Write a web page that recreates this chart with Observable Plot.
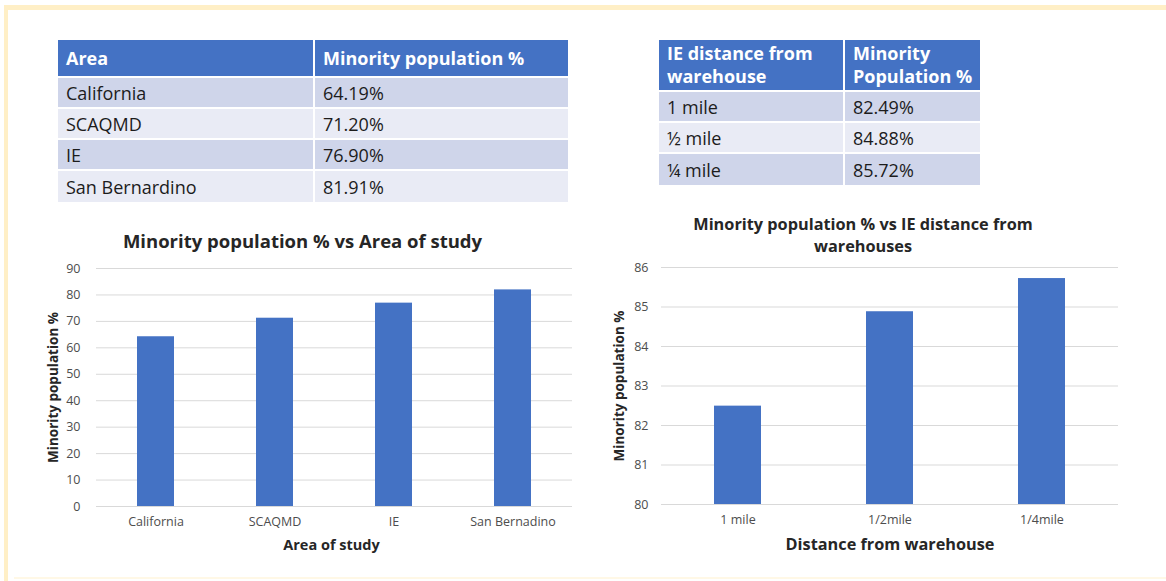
<!DOCTYPE html>
<html>
<head>
<meta charset="utf-8">
<script src="https://cdn.jsdelivr.net/npm/d3@7"></script>
<script src="https://cdn.jsdelivr.net/npm/@observablehq/plot@0.6"></script>
<style>
  html, body { margin: 0; padding: 0; }
  body { width: 1166px; height: 581px; position: relative; background: #fff; overflow: hidden; font-family: "Open Sans", Lato, sans-serif; }
  .band { position: absolute; background: #FFEFC6; }
  table.t { position: absolute; border-collapse: separate; border-spacing: 0; font-family: "Open Sans", sans-serif; color: #1c1c1c; table-layout: fixed; }
  table.t th, table.t td { text-align: left; padding: 0 0 0 8px; box-sizing: border-box; border-bottom: 2px solid #fff; vertical-align: middle; }
  table.t th { background: #4472C4; color: #fff; font-weight: 700; font-size: 18px; line-height: 23px; }
  table.t td { font-size: 18px; }
  table.t tr.odd td { background: #CFD5EA; }
  table.t tr.even td { background: #E9EBF5; }
  table.t tr:last-child td { border-bottom: none; }
  table.t th + th, table.t td + td { border-left: 2px solid #fff; }
  .chart { position: absolute; }
</style>
</head>
<body>
<div class="band" style="left:4px;top:5px;width:1162px;height:5px;"></div>
<div class="band" style="left:4px;top:5px;width:4px;height:576px;"></div>
<div class="band" style="left:14px;top:577px;width:1152px;height:2px;background:#FFF8E6;"></div>

<table class="t" id="t1" style="left:58px;top:40px;width:510px;"></table>
<table class="t" id="t2" style="left:659px;top:40px;width:321px;"></table>
<div class="chart" id="c1" style="left:0px;top:215px;"></div>
<div class="chart" id="c2" style="left:600px;top:195px;"></div>

<script>
// ---- Table data ----
const areaHeader = ["Area", "Minority population %"];
const areaNames = ["California", "SCAQMD", "IE", "San Bernardino"];
const areaPctText = ["64.19%", "71.20%", "76.90%", "81.91%"];

const distHeader = ["IE distance from<br>warehouse", "Minority<br>Population %"];
const distNames = ["1 mile", "½ mile", "¼ mile"];
const distPctText = ["82.49%", "84.88%", "85.72%"];

// ---- Chart data ----
const areas = ["California", "SCAQMD", "IE", "San Bernadino"];
const areaValues = [64.19, 71.20, 76.90, 81.91];
const areaTicks = [0, 10, 20, 30, 40, 50, 60, 70, 80, 90];

const distances = ["1 mile", "1/2mile", "1/4mile"];
const distanceValues = [82.49, 84.88, 85.72];
const distanceTicks = [80, 81, 82, 83, 84, 85, 86];

function buildTable(el, header, names, vals, headH, rowH, col1W) {
  let html = `<tr><th style="height:${headH}px;width:${col1W}px">${header[0]}</th><th style="height:${headH}px">${header[1]}</th></tr>`;
  names.forEach((n, i) => {
    const cls = i % 2 === 0 ? "odd" : "even";
    html += `<tr class="${cls}"><td style="height:${rowH}px">${n}</td><td style="height:${rowH}px">${vals[i]}</td></tr>`;
  });
  el.innerHTML = html;
}
buildTable(document.getElementById("t1"), areaHeader, areaNames, areaPctText, 38, 31, 255);
buildTable(document.getElementById("t2"), distHeader, distNames, distPctText, 52, 31, 184);

const font = "'Open Sans', Lato, sans-serif";
const blue = "#4472C4";

// ---- Chart 1 ----
const d1 = areas.map((a, i) => ({area: a, value: areaValues[i]}));
const c1 = Plot.plot({
  width: 590, height: 350,
  marginLeft: 96, marginRight: 18, marginTop: 53, marginBottom: 59,
  style: {fontFamily: font, background: "transparent", overflow: "visible"},
  x: {domain: areas, paddingInner: 0.69, paddingOuter: 0.345, label: null},
  y: {domain: [0, 90], label: null},
  marks: [
    Plot.gridY(areaTicks, {stroke: "#d9d9d9", strokeOpacity: 1}),
    Plot.barY(d1, {x: "area", y: "value", fill: blue}),
    Plot.axisY(areaTicks, {tickSize: 0, tickPadding: 16, fontSize: 12.5, fill: "#4d4d4d", label: null}),
    Plot.axisX({tickSize: 0, tickPadding: 11, fontSize: 12.5, fill: "#4d4d4d", label: null}),
    Plot.text(["Minority population % vs Area of study"], {frameAnchor: "top", dy: -26, dx: -32, fontSize: 18.5, fontWeight: "bold", fill: "#262626", lineAnchor: "middle"}),
    Plot.text(["Area of study"], {frameAnchor: "bottom", dy: 39, dx: -3, fontSize: 14.5, fontWeight: "bold", fill: "#262626", lineAnchor: "middle"}),
    Plot.text(["Minority population %"], {frameAnchor: "left", dx: -43, rotate: -90, textAnchor: "middle", lineAnchor: "middle", fontSize: 13.5, fontWeight: "bold", fill: "#262626"})
  ]
});
document.getElementById("c1").appendChild(c1);

// ---- Chart 2 ----
const d2 = distances.map((d, i) => ({dist: d, value: distanceValues[i]}));
const c2 = Plot.plot({
  width: 566, height: 370,
  marginLeft: 61, marginRight: 48, marginTop: 72, marginBottom: 61,
  style: {fontFamily: font, background: "transparent", overflow: "visible"},
  x: {domain: distances, paddingInner: 0.69, paddingOuter: 0.345, label: null},
  y: {domain: [80, 86], label: null},
  marks: [
    Plot.gridY(distanceTicks, {stroke: "#d9d9d9", strokeOpacity: 1}),
    Plot.barY(d2, {x: "dist", y1: 80, y2: "value", fill: blue}),
    Plot.axisY(distanceTicks, {tickSize: 0, tickPadding: 13, fontSize: 12.5, fill: "#4d4d4d", label: null}),
    Plot.axisX({tickSize: 0, tickPadding: 11, fontSize: 12.5, fill: "#4d4d4d", label: null}),
    Plot.text(["Minority population % vs IE distance from\nwarehouses"], {frameAnchor: "top", dy: -34, dx: -27, fontSize: 16.3, fontWeight: "bold", fill: "#262626", lineAnchor: "middle", lineHeight: 1.35}),
    Plot.text(["Distance from warehouse"], {frameAnchor: "bottom", dy: 40, fontSize: 16.3, fontWeight: "bold", fill: "#262626", lineAnchor: "middle"}),
    Plot.text(["Minority population %"], {frameAnchor: "left", dx: -42, rotate: -90, textAnchor: "middle", lineAnchor: "middle", fontSize: 13.5, fontWeight: "bold", fill: "#262626"})
  ]
});
document.getElementById("c2").appendChild(c2);
</script>
</body>
</html>
